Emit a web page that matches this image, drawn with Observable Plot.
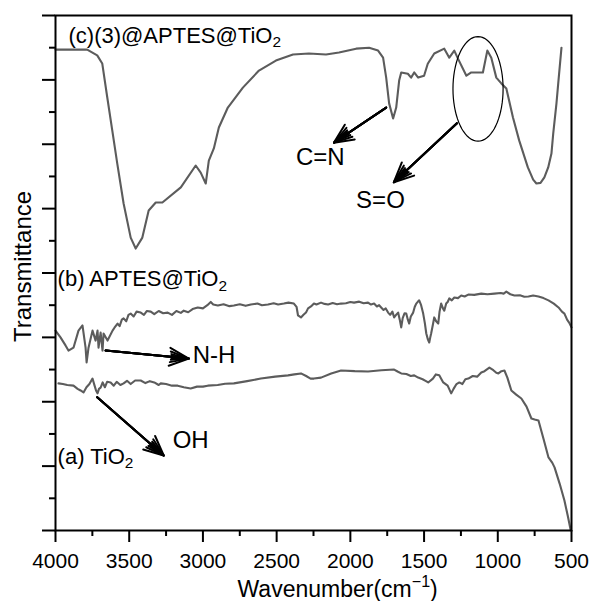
<!DOCTYPE html>
<html>
<head>
<meta charset="utf-8">
<script src="https://cdn.jsdelivr.net/npm/d3@7"></script>
<script src="https://cdn.jsdelivr.net/npm/@observablehq/plot@0.6"></script>
<style>
  html, body { margin: 0; padding: 0; background: #fff; }
  #chart svg { font-family: "Liberation Sans", Arial, sans-serif; }
</style>
</head>
<body>
<div id="chart"></div>
<script>
// ---- data (wavenumber cm^-1, transmittance arb. units) ----
const seriesC_wn = [4000,3785,3717,3683,3649,3615,3581,3538,3490,3456,3411,3368,3320,3275,3150,3049,3015,2981,2960,2926,2892,2831,2729,2620,2505,2389,2281,2165,2077,1961,1873,1812,1778,1757,1737,1710,1689,1669,1655,1610,1588,1567,1540,1500,1475,1431,1363,1329,1295,1270,1213,1180,1101,1071,1044,1010,976,942,897,855,796,760,738,710,684,658,636,624,602,590,568];
const seriesC_T  = [14.94,14.94,14.76,14.51,13.46,12.43,11.40,10.16,9.10,8.76,9.10,9.94,10.19,10.19,10.66,11.34,11.12,10.78,11.49,11.87,12.52,13.14,13.76,14.29,14.60,14.79,14.82,14.79,14.85,14.97,15.00,14.91,14.69,14.07,13.27,12.80,13.14,13.98,14.23,14.19,14.07,14.23,14.07,14.13,14.50,14.82,14.97,14.69,14.91,14.66,14.13,14.23,14.23,14.91,14.69,14.07,13.89,13.73,12.83,12.12,11.28,10.90,10.78,10.80,10.97,11.28,11.71,12.33,13.27,13.89,15.00];

const seriesB_wn = [4000,3966,3932,3912,3878,3844,3817,3796,3789,3776,3749,3728,3715,3708,3694,3681,3674,3647,3613,3600,3579,3565,3550,3538,3520,3505,3490,3470,3450,3422,3400,3380,3354,3330,3300,3270,3239,3210,3180,3150,3130,3100,3070,3035,3000,2970,2947,2930,2899,2860,2820,2790,2750,2710,2675,2630,2600,2559,2520,2490,2451,2420,2383,2365,2355,2335,2318,2301,2287,2267,2247,2230,2199,2175,2151,2120,2090,2063,2030,2000,1975,1940,1910,1880,1860,1839,1820,1805,1791,1775,1760,1744,1730,1715,1703,1690,1676,1665,1655,1645,1632,1621,1610,1601,1590,1574,1563,1553,1540,1533,1520,1506,1495,1485,1475,1465,1458,1452,1440,1431,1418,1404,1395,1384,1372,1363,1350,1340,1329,1312,1295,1270,1248,1225,1200,1160,1112,1070,1023,980,960,942,915,887,850,820,792,760,724,690,656,620,588,565,548,530,515,500];
const seriesB_T  = [6.21,6.00,5.75,5.59,5.68,6.21,6.37,5.68,5.22,5.68,6.21,5.90,6.21,5.68,6.15,5.59,6.12,5.90,6.21,6.30,6.43,6.35,6.55,6.59,6.50,6.70,6.74,6.65,6.80,6.77,6.70,6.82,6.80,6.72,6.82,6.75,6.77,6.70,6.82,6.76,6.83,6.78,6.88,6.93,6.90,7.00,7.10,7.02,6.99,7.03,6.97,6.99,7.03,6.98,7.02,7.05,7.00,7.02,7.06,7.02,7.05,7.08,7.05,6.95,6.68,6.62,6.70,6.77,6.90,6.96,7.05,7.02,7.08,7.04,7.02,7.07,7.03,7.05,7.06,7.10,7.08,7.11,7.06,7.08,7.02,7.05,6.96,7.00,6.93,6.85,6.90,6.77,6.70,6.80,6.62,6.70,6.77,6.55,6.31,6.60,6.75,6.74,6.55,6.43,6.65,6.77,6.95,7.05,7.12,7.15,7.00,6.74,6.45,6.12,5.95,5.84,6.00,6.12,6.40,6.62,6.50,6.43,6.80,7.05,6.90,6.83,7.05,7.10,7.21,7.15,7.24,7.22,7.30,7.27,7.33,7.32,7.36,7.34,7.36,7.38,7.36,7.42,7.34,7.30,7.31,7.26,7.27,7.30,7.27,7.22,7.15,7.05,6.93,6.80,6.74,6.55,6.45,6.31];

const seriesA_wn = [3980,3950,3920,3878,3850,3830,3810,3790,3770,3749,3735,3725,3715,3705,3694,3680,3665,3650,3626,3605,3585,3560,3538,3515,3490,3460,3422,3390,3360,3330,3300,3286,3250,3210,3171,3130,3083,3040,3000,2967,2900,2850,2790,2700,2607,2510,2423,2380,2335,2300,2270,2247,2199,2130,2063,1970,1880,1790,1703,1680,1655,1620,1590,1567,1540,1510,1490,1472,1440,1420,1397,1370,1340,1316,1300,1280,1261,1240,1220,1200,1170,1140,1112,1090,1057,1030,1010,996,975,955,935,908,875,840,805,772,750,724,690,656,630,615,580,548,525,505];
const seriesA_T  = [4.57,4.55,4.52,4.50,4.40,4.35,4.29,4.45,4.55,4.72,4.50,4.35,4.26,4.40,4.44,4.60,4.45,4.62,4.60,4.50,4.62,4.52,4.57,4.65,4.55,4.66,4.66,4.58,4.64,4.60,4.52,4.57,4.55,4.50,4.50,4.45,4.41,4.47,4.47,4.50,4.52,4.56,4.57,4.64,4.72,4.78,4.82,4.85,4.88,4.80,4.72,4.72,4.75,4.88,4.97,4.95,4.94,4.98,5.00,4.94,4.88,4.86,4.80,4.82,4.75,4.70,4.65,4.60,4.72,4.85,4.82,4.60,4.50,4.26,4.40,4.55,4.60,4.55,4.70,4.72,4.80,4.78,4.91,4.95,5.06,4.98,4.90,4.88,4.95,4.97,4.75,4.35,4.22,4.10,3.85,3.48,3.45,3.42,2.85,2.27,2.10,1.96,1.45,0.93,0.45,0.00];

const xMajorTicks = [4000,3500,3000,2500,2000,1500,1000,500];
const xMinorTicks = [3750,3250,2750,2250,1750,1250,750];
const yMajorTicks = [0,2,4,6,8,10,12,14,16];
const yMinorTicks = [1,3,5,7,9,11,13,15];

// text annotations (wavenumber, transmittance anchor)
const labelText = ["(c)(3)@APTES@TiO₂","(b) APTES@TiO₂","(a) TiO₂","OH","N-H","C=N","S=O"];
const labelWn   = [3912,3986,3986,3205,3069,2369,1961];
const labelT    = [15.38,7.80,2.30,2.80,5.44,11.59,10.25];
const labelSize = [22,22,22,24,24,24,24];

// arrows: from (wn1,T1) to (wn2,T2)
const arrowWn1 = [1757,1277,3660,3717];
const arrowT1  = [13.14,12.65,5.59,4.14];
const arrowWn2 = [2111,1705,3096,3266];
const arrowT2  = [12.05,10.82,5.34,2.33];

// ellipse around S=O bands: centre and semi-axes in data units
const ellipseCenterWn = 1134, ellipseCenterT = 13.72, ellipseRWn = 170, ellipseRT = 1.625;

// ---- build tables ----
const toRows = (wn, T, s) => wn.map((w, i) => ({wn: w, T: T[i], s}));
const spectra = [
  ...toRows(seriesC_wn, seriesC_T, "c"),
  ...toRows(seriesB_wn, seriesB_T, "b"),
  ...toRows(seriesA_wn, seriesA_T, "a")
];
const labels = labelText.map((t, i) => ({t, wn: labelWn[i], T: labelT[i], fs: labelSize[i]}));
const arrows = arrowWn1.map((w, i) => ({x1: w, y1: arrowT1[i], x2: arrowWn2[i], y2: arrowT2[i]}));
const ellipse = d3.range(0, 73).map(k => {
  const a = (k / 72) * 2 * Math.PI;
  return {wn: ellipseCenterWn + ellipseRWn * Math.cos(a), T: ellipseCenterT + ellipseRT * Math.sin(a)};
});

const headLayers = [[16, 50], [14.5, 32], [13.5, 18], [13, 8]];

const chart = Plot.plot({
  width: 590,
  height: 601,
  marginLeft: 55,
  marginRight: 19,
  marginTop: 15,
  marginBottom: 71,
  style: {fontFamily: '"Liberation Sans", Arial, sans-serif', color: "black", background: "white"},
  x: {domain: [4000, 500]},
  y: {domain: [0, 16]},
  marks: [
    Plot.axisX(xMajorTicks, {tickSize: 12, tickPadding: 11, fontSize: 21, strokeWidth: 2, label: null, tickFormat: d => String(d)}),
    Plot.axisX(xMinorTicks, {tickSize: 6, strokeWidth: 2, label: null, tickFormat: () => ""}),
    Plot.axisY(yMajorTicks, {tickSize: 13, strokeWidth: 2, label: null, tickFormat: () => ""}),
    Plot.axisY(yMinorTicks, {tickSize: 6, strokeWidth: 2, label: null, tickFormat: () => ""}),
    Plot.line(spectra, {x: "wn", y: "T", z: "s", stroke: "#5c5c5c", strokeWidth: 2.1, curve: "linear"}),
    Plot.line(ellipse, {x: "wn", y: "T", stroke: "black", strokeWidth: 1.2, curve: "linear"}),
    ...headLayers.map(([hl, ha]) => Plot.arrow(arrows, {x1: "x1", y1: "y1", x2: "x2", y2: "y2", stroke: "black", strokeWidth: 2, headLength: hl, headAngle: ha})),
    ...[22, 24].map(fs => Plot.text(labels.filter(d => d.fs === fs), {x: "wn", y: "T", text: "t", fontSize: fs, textAnchor: "start", lineAnchor: "middle", fill: "black"})),
    Plot.text(["Wavenumber(cm⁻¹)"], {frameAnchor: "bottom-left", dx: 182, dy: 59, textAnchor: "start", lineAnchor: "middle", fontSize: 23, fill: "black"}),
    Plot.text(["Transmittance"], {frameAnchor: "left", dx: -32, dy: -6.5, rotate: -90, textAnchor: "middle", lineAnchor: "middle", fontSize: 24, fill: "black"}),
    Plot.frame({stroke: "black", strokeWidth: 2})
  ]
});

// convert sub/superscript characters into proper tspans
chart.querySelectorAll("text").forEach(t => {
  const s = t.textContent;
  if (!/(₂|⁻¹)/.test(s) || t.querySelector("tspan")) return;
  const parts = s.split(/(₂|⁻¹)/).filter(p => p !== "");
  t.textContent = "";
  let shift = 0;
  for (const p of parts) {
    const ts = document.createElementNS("http://www.w3.org/2000/svg", "tspan");
    if (p === "₂") {
      ts.textContent = "2";
      ts.setAttribute("font-size", "70%");
      ts.setAttribute("dy", (0.22 / 0.7).toFixed(3) + "em");
      shift = 0.22;
    } else if (p === "⁻¹") {
      ts.textContent = "−1";
      ts.setAttribute("font-size", "70%");
      ts.setAttribute("dy", (-0.42 / 0.7).toFixed(3) + "em");
      shift = -0.42;
    } else {
      ts.textContent = p;
      if (shift !== 0) ts.setAttribute("dy", (-shift).toFixed(3) + "em");
      shift = 0;
    }
    t.appendChild(ts);
  }
});

document.getElementById("chart").appendChild(chart);
</script>
</body>
</html>
